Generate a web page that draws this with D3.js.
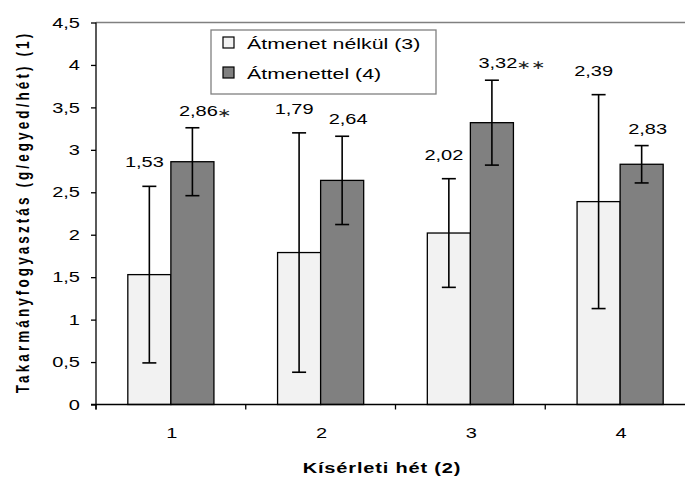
<!DOCTYPE html>
<html>
<head>
<meta charset="utf-8">
<script src="https://cdn.jsdelivr.net/npm/d3@7"></script>
<style>
  body { margin: 0; background: #fff; }
  text { font-family: "Liberation Sans", Arial, sans-serif; }
</style>
</head>
<body>
<svg id="chart" width="685" height="487"></svg>
<script>
const weeks = ["1", "2", "3", "4"];
const seriesNames = ["Átmenet nélkül (3)", "Átmenettel (4)"];
const withoutTransition = [1.53, 1.79, 2.02, 2.39];
const withTransition = [2.86, 2.64, 3.32, 2.83];
const withoutErr = [1.04, 1.41, 0.64, 1.26];
const withErr = [0.40, 0.52, 0.50, 0.22];
const withStars = ["∗", "", "∗∗", ""];
const yTicks = [0, 0.5, 1, 1.5, 2, 2.5, 3, 3.5, 4, 4.5];

const svg = d3.select("#chart");
const plotLeft = 96, plotRight = 695, plotTop = 22.5, plotBottom = 404.5;
const colors = ["#f2f2f2", "#808080"];
const SX = 1.38; // the original text is drawn wide
const fmt = v => String(v.toFixed(2)).replace(".", ",");
const tickFmt = v => String(v).replace(".", ",");
const wide = (x, y) => `translate(${x},${y}) scale(${SX},1)`;

let rows = weeks.map((w, i) => ({
    week: w,
    bars: [
        {s: 0, v: withoutTransition[i], e: withoutErr[i], star: ""},
        {s: 1, v: withTransition[i], e: withErr[i], star: withStars[i]}
    ]
}));

let x = d3.scaleBand().domain(weeks).range([plotLeft, plotRight])
    .paddingInner(0.425).paddingOuter(0.2125);
let xs = d3.scaleBand().domain([0, 1]).range([0, x.bandwidth()]);
let y = d3.scaleLinear().domain([0, 4.5]).range([plotBottom, plotTop]);

// top border of the plot area
svg.append("line")
    .attr("x1", plotLeft).attr("x2", 685)
    .attr("y1", plotTop).attr("y2", plotTop)
    .style("stroke", "#808080").style("stroke-width", 1.5);

// bars
let g = svg.selectAll("g.week").data(rows).enter()
    .append("g").attr("class", "week")
    .attr("transform", d => `translate(${x(d.week)},0)`);

let bar = g.selectAll("g.bar").data(d => d.bars).enter()
    .append("g").attr("class", "bar");

bar.append("rect")
    .attr("x", d => xs(d.s))
    .attr("y", d => y(d.v))
    .attr("width", xs.bandwidth())
    .attr("height", d => plotBottom - y(d.v))
    .style("fill", d => colors[d.s])
    .style("stroke", "#000").style("stroke-width", 1.3);

// error bars
let cx = d => xs(d.s) + xs.bandwidth() / 2;
bar.append("line")
    .attr("x1", cx).attr("x2", cx)
    .attr("y1", d => y(d.v + d.e)).attr("y2", d => y(d.v - d.e));
bar.selectAll("line.cap").data(d => [[d, d.v + d.e], [d, d.v - d.e]]).enter()
    .append("line").attr("class", "cap")
    .attr("x1", d => cx(d[0]) - 7).attr("x2", d => cx(d[0]) + 7)
    .attr("y1", d => y(d[1])).attr("y2", d => y(d[1]));
bar.selectAll("line").style("stroke", "#000").style("stroke-width", 1.6);

// value labels
bar.each(function(d){
    let el = d3.select(this);
    let tx = cx(d) + (d.s === 0 ? -5 : 6);
    let ty = y(d.v + d.e) - (d.s === 0 ? 19 : 12);
    let t = el.append("text")
        .attr("transform", wide(tx, ty))
        .attr("text-anchor", "middle")
        .style("font-size", "14.5px")
        .text(fmt(d.v));
    if (d.star) {
        let w = t.node().getComputedTextLength() * SX;
        el.append("text")
            .attr("transform", wide(tx + w / 2 - 1, ty + 1))
            .style("font-family", "DejaVu Sans")
            .style("font-size", "12.5px")
            .style("fill", "#222")
            .text(d.star);
    }
});

// y axis
let yAxis = svg.append("g")
    .attr("transform", `translate(${plotLeft},0)`)
    .call(d3.axisLeft(y).tickValues(yTicks).tickFormat(tickFmt).tickSize(5));
yAxis.select(".domain").attr("d", `M0,${plotTop}V${plotBottom + 5}`).style("stroke-width", 1.3);
yAxis.selectAll("line").style("stroke-width", 1.3);
yAxis.selectAll("text")
    .attr("x", 0)
    .attr("transform", wide(-16, 0))
    .style("font-size", "14.5px")
    .style("font-family", "Liberation Sans, Arial, sans-serif");

// x axis
let xAxis = svg.append("g")
    .attr("transform", `translate(0,${plotBottom})`);
xAxis.append("line")
    .attr("x1", plotLeft - 5).attr("x2", 685)
    .style("stroke", "#000").style("stroke-width", 1.3);
let bounds = weeks.map(w => x(w) - x.step() * 0.2125).concat([plotRight]);
xAxis.selectAll("line.tk").data(bounds).enter()
    .append("line").attr("class", "tk")
    .attr("x1", d => d).attr("x2", d => d)
    .attr("y1", 0).attr("y2", 5)
    .style("stroke", "#000").style("stroke-width", 1.3);
xAxis.selectAll("text").data(weeks).enter()
    .append("text")
    .attr("transform", d => wide(x(d) + x.bandwidth() / 2 + 1, 33))
    .attr("text-anchor", "middle")
    .style("font-size", "14.5px")
    .text(d => d);

// axis titles
svg.append("text")
    .attr("transform", `translate(29,212) rotate(-90) scale(1,${SX})`)
    .attr("text-anchor", "middle")
    .style("font-size", "13.5px").style("font-weight", "bold").style("letter-spacing", "3.1px")
    .text("Takarmányfogyasztás (g/egyed/hét) (1)");
svg.append("text")
    .attr("transform", wide(382, 473))
    .attr("text-anchor", "middle")
    .style("font-size", "14.5px").style("font-weight", "bold").style("letter-spacing", "0.6px")
    .text("Kísérleti hét (2)");

// legend
let lg = svg.append("g").attr("transform", "translate(211,30)");
lg.append("rect")
    .attr("width", 225).attr("height", 64)
    .style("fill", "#fff").style("stroke", "#808080").style("stroke-width", 1.3);
let item = lg.selectAll("g.item").data(seriesNames).enter()
    .append("g").attr("class", "item")
    .attr("transform", (d, i) => `translate(12,${7 + i * 30})`);
item.append("rect")
    .attr("width", 11).attr("height", 11)
    .style("fill", (d, i) => colors[i])
    .style("stroke", "#000").style("stroke-width", 1.2);
item.append("text")
    .attr("transform", wide(24, 12))
    .style("font-size", "15.5px")
    .text(d => d);
</script>
</body>
</html>
